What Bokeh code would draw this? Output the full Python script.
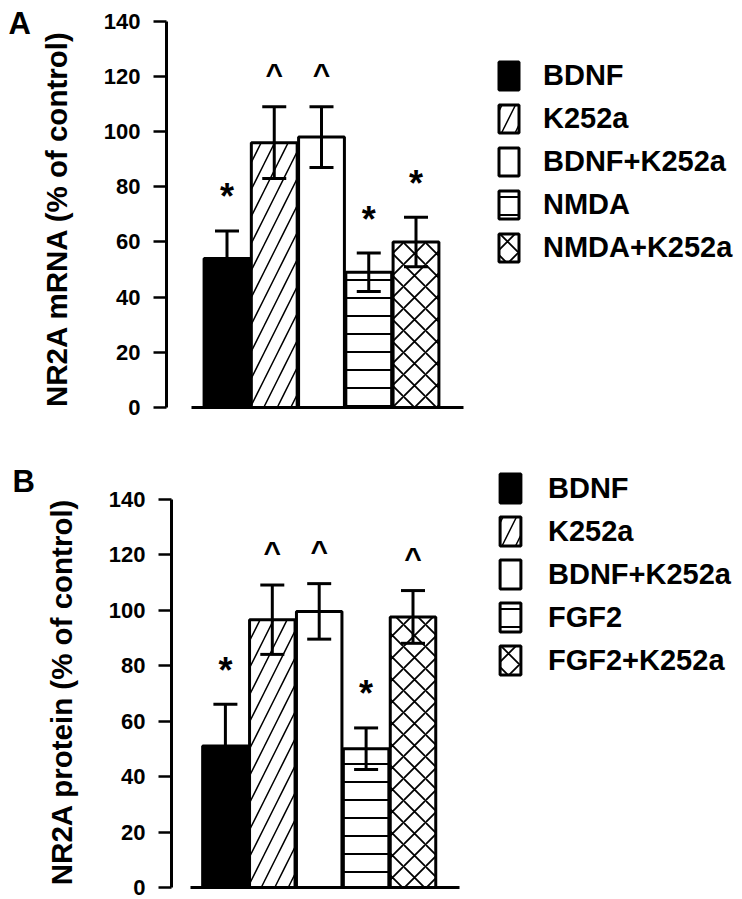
import math
from bokeh.plotting import figure
from bokeh.models import (ColumnDataSource, Whisker, TeeHead, Legend, LegendItem,
                          FixedTicker, Range1d)
from bokeh.layouts import column, row
from bokeh.embed import file_html
from bokeh.resources import INLINE
from bokeh.core.properties import value

FONT = "Liberation Sans"

# ---------------- data ----------------
labels_a = ["BDNF", "K252a", "BDNF+K252a", "NMDA", "NMDA+K252a"]
mean_a = [54, 96, 98, 49, 60]
err_a = [10, 13, 11, 7, 9]
mark_a = ["*", "^", "^", "*", "*"]
ylabel_a = "NR2A mRNA (% of control)"

labels_b = ["BDNF", "K252a", "BDNF+K252a", "FGF2", "FGF2+K252a"]
mean_b = [51, 96.5, 99.5, 50, 97.5]
err_b = [15, 12.5, 10, 7.5, 9.5]
mark_b = ["*", "^", "^", "*", "^"]
ylabel_b = "NR2A protein (% of control)"

y_ticks = [0, 20, 40, 60, 80, 100, 120, 140]

# ---------------- styles ----------------
fills = ["black", "white", "white", "white", "white"]
hatches = [" ", "/", " ", "-", "x"]
hatch_scales = [12, 27, 12, 18, 22]
hatch_weights = [1, 1.5, 1, 2, 1.8]
mark_offset = {"*": 12.3, "^": 12.0}
mark_size = {"*": "36px", "^": "30px"}

SIDE_W = 95
TOTAL_W = 740


def side(height, letter, letter_xy, ylabel, ylabel_xy):
    s = figure(width=SIDE_W, height=height, x_range=Range1d(0, SIDE_W),
               y_range=Range1d(0, height), output_backend="svg",
               toolbar_location=None, x_axis_location=None,
               y_axis_location=None, min_border=0)
    s.outline_line_color = None
    s.grid.visible = False
    s.text(x=[letter_xy[0]], y=[letter_xy[1]], text=[letter],
           text_font=value(FONT), text_font_style="bold",
           text_font_size="31px", text_align="left",
           text_baseline="middle", text_color="black")
    s.text(x=[ylabel_xy[0]], y=[ylabel_xy[1]], text=[ylabel],
           angle=math.pi / 2, text_font=value(FONT), text_font_style="bold",
           text_font_size="29.5px", text_align="center",
           text_baseline="middle", text_color="black")
    return s


def panel(labels, means, errs, marks, height, left, bottom,
          unit_px, x0_px, y_px, leg_loc, leg_glyph, leg_spacing, leg_standoff):
    W = TOTAL_W - SIDE_W
    frame_w = W - left
    frame_h = height - bottom
    xs = list(range(1, len(labels) + 1))
    xstart = 1 - x0_px / unit_px
    xend = xstart + frame_w / unit_px
    yend = frame_h / y_px
    p = figure(width=W, height=height, x_range=Range1d(xstart, xend),
               y_range=Range1d(0, yend), output_backend="svg",
               toolbar_location=None, min_border_left=left,
               min_border_right=0, min_border_top=0, min_border_bottom=bottom)
    p.outline_line_color = None
    p.grid.visible = False

    src = ColumnDataSource(dict(
        x=xs, top=means,
        upper=[m + e for m, e in zip(means, errs)],
        lower=[m - e for m, e in zip(means, errs)],
        mark=marks,
        my=[m + e + mark_offset[k] for m, e, k in zip(means, errs, marks)],
        msize=[mark_size[k] for k in marks],
        fill=fills, hatch=hatches, hscale=hatch_scales, hweight=hatch_weights,
    ))

    bars = p.vbar(x="x", top="top", bottom=0, width=0.97, source=src,
                  fill_color="fill", line_color="black", line_width=3,
                  hatch_pattern="hatch", hatch_scale="hscale",
                  hatch_weight="hweight", hatch_color="black")

    wh = Whisker(base="x", upper="upper", lower="lower", source=src,
                 level="overlay", line_width=3, line_color="black",
                 upper_head=TeeHead(size=24, line_width=3, line_color="black"),
                 lower_head=TeeHead(size=24, line_width=3, line_color="black"))
    p.add_layout(wh)

    p.text(x="x", y="my", text="mark", source=src, text_font=value(FONT),
           text_font_style="bold", text_font_size="msize", text_align="center",
           text_baseline="middle", text_color="black")

    ya = p.yaxis[0]
    ya.ticker = FixedTicker(ticks=y_ticks)
    ya.bounds = (0, 140)
    ya.major_tick_out = 13
    ya.major_tick_in = 0
    ya.minor_tick_out = 0
    ya.minor_tick_in = 0
    ya.axis_line_width = 3
    ya.major_tick_line_width = 2.5
    ya.major_label_standoff = 13
    ya.major_label_text_font = FONT
    ya.major_label_text_font_style = "bold"
    ya.major_label_text_font_size = "22px"
    ya.major_label_text_color = "black"

    xa = p.xaxis[0]
    xa.ticker = FixedTicker(ticks=[])
    xa.bounds = (0.25, 6.0)
    xa.major_tick_out = 0
    xa.major_tick_in = 0
    xa.minor_tick_out = 0
    xa.minor_tick_in = 0
    xa.major_label_standoff = 0
    xa.axis_line_width = 3

    items = [LegendItem(label=lab, renderers=[bars], index=i)
             for i, lab in enumerate(labels)]
    leg = Legend(items=items, location=leg_loc, glyph_width=leg_glyph[0],
                 glyph_height=leg_glyph[1], label_height=28,
                 label_standoff=leg_standoff, spacing=leg_spacing,
                 padding=0, margin=0, border_line_alpha=0,
                 background_fill_alpha=0, label_text_font=FONT,
                 label_text_font_style="bold", label_text_font_size="29px",
                 label_text_color="black")
    p.add_layout(leg)
    return p


HA = 448
HB = 451

sA = side(HA, "A", (8, HA - 25), ylabel_a, (56, HA - 240))
pA = panel(labels_a, mean_a, err_a, mark_a, height=HA,
           left=166 - SIDE_W, bottom=HA - 407, unit_px=47.25, x0_px=60.5,
           y_px=2.759, leg_loc=(330, 142), leg_glyph=(25, 35),
           leg_spacing=8, leg_standoff=22)

sB = side(HB, "B", (12, HB - 34), ylabel_b, (61, HB - 250))
pB = panel(labels_b, mean_b, err_b, mark_b, height=HB,
           left=171 - SIDE_W, bottom=HB - 439, unit_px=46.9, x0_px=53.9,
           y_px=2.775, leg_loc=(326, 209), leg_glyph=(26, 36),
           leg_spacing=7, leg_standoff=25)

layout = column(row(sA, pA, spacing=0), row(sB, pB, spacing=0), spacing=0)
open("out.html", "w").write(file_html(layout, INLINE))
